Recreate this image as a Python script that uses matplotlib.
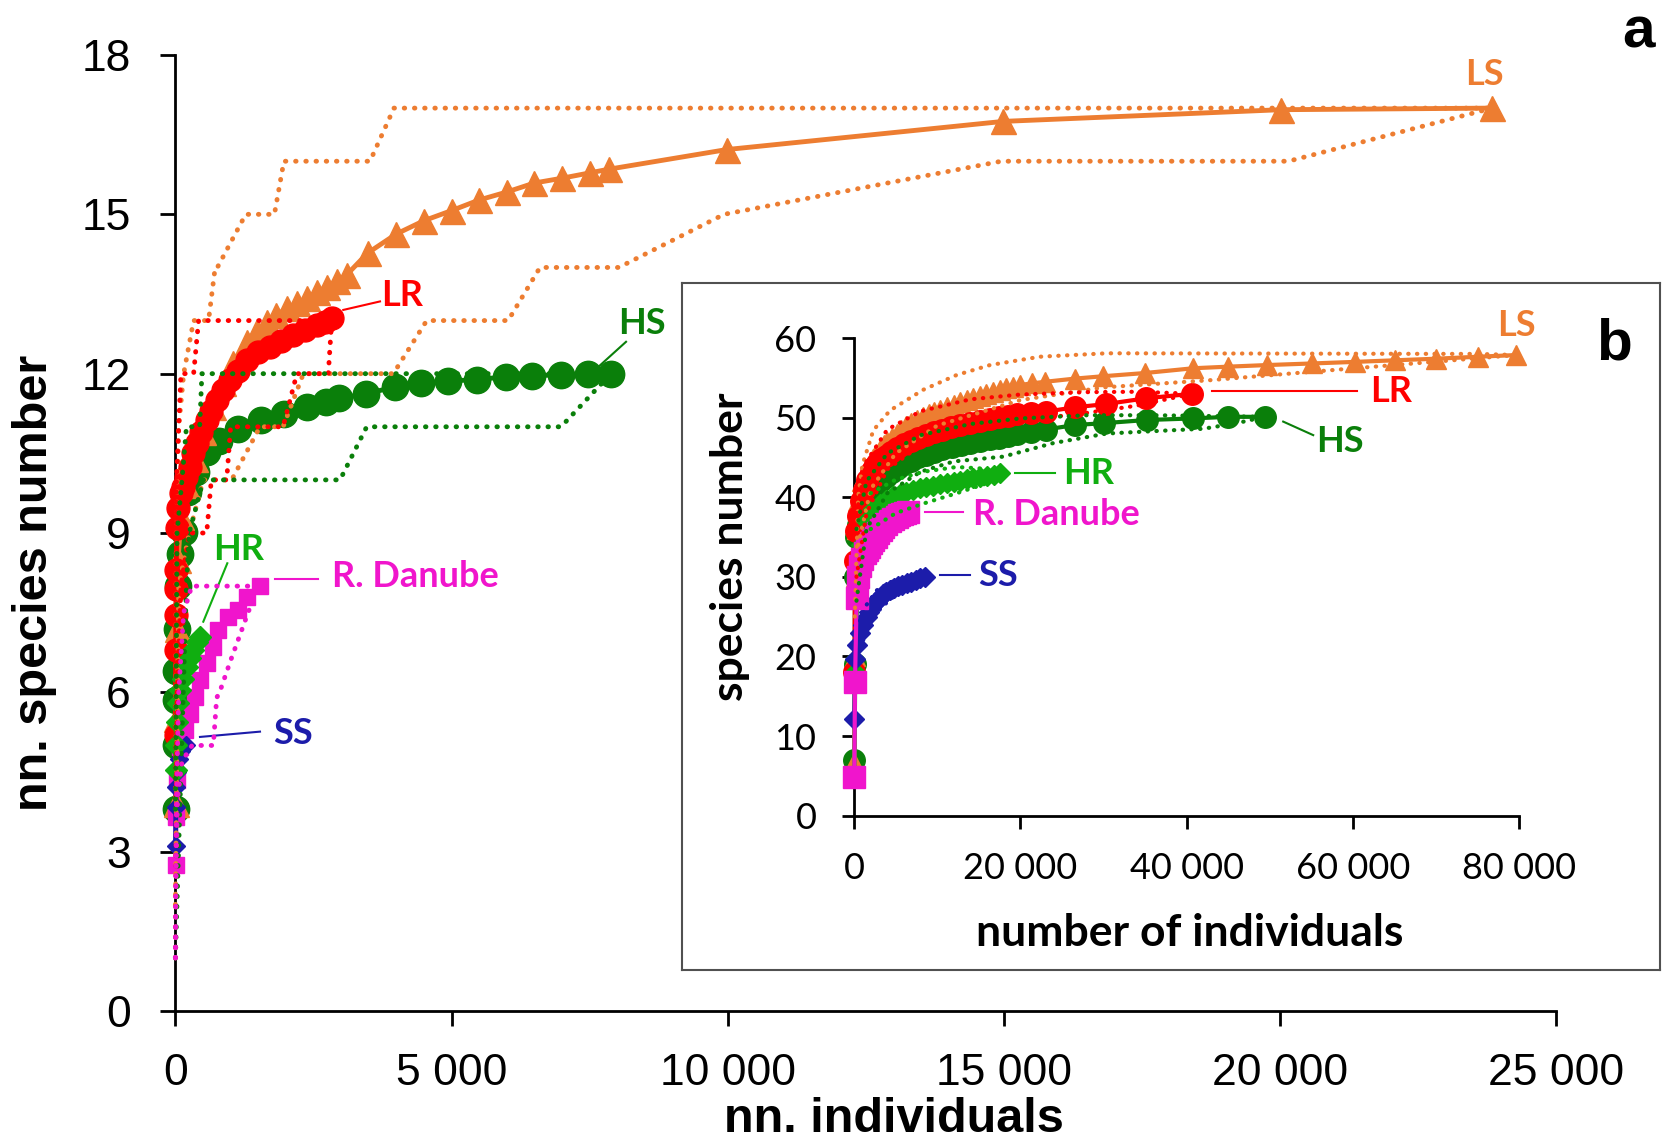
import matplotlib
matplotlib.use("Agg")
import matplotlib.pyplot as plt

# colours
c_ls = '#ED7D31'
c_lr = '#FF0000'
c_hs = '#0A7F0A'
c_hr = '#10AE10'
c_dan = '#F015CC'
c_ss = '#1C1CAA'

# ---------------- panel a (main) ----------------
ls_x = [3, 10, 25, 50, 100, 200, 350, 500, 686, 867, 1049, 1291, 1470, 1653, 1830, 2015, 2200,
        2377, 2560, 2739, 2920, 3101, 3480, 4000, 4500, 5000, 5500, 6000, 6500, 7000, 7500,
        7850, 9987, 14992, 20017, 23845]
ls_y = [3.9, 5.5, 7.2, 8.5, 9.3, 9.9, 10.4, 10.9, 11.38, 11.82, 12.2, 12.6, 12.8, 12.98, 13.1,
        13.23, 13.33, 13.42, 13.53, 13.64, 13.75, 13.86, 14.27, 14.63, 14.88, 15.07, 15.27,
        15.42, 15.59, 15.68, 15.78, 15.85, 16.22, 16.75, 16.97, 17.0]
ls_up_x = [0, 15, 60, 150, 330, 600, 720, 760, 1273, 1793, 1965, 3524, 3958, 23845]
ls_up_y = [4, 9, 11, 12, 13, 13, 14, 14, 15, 15, 16, 16, 17, 17]
ls_lo_x = [0, 60, 250, 505, 1019, 1532, 1950, 2317, 3946, 4551, 6025, 6602, 8029, 9935,
           14957, 20155, 23845]
ls_lo_y = [2, 8, 9, 10, 10, 11, 11, 12, 12, 13, 13, 14, 14, 15, 16, 16, 17]

lr_x = [2, 5, 8, 12, 16, 24, 53, 100, 143, 200, 264, 320, 386, 470, 567, 650, 748, 860, 989,
        1130, 1291, 1500, 1713, 1920, 2135, 2350, 2558, 2700, 2830]
lr_y = [5.2, 6.8, 7.45, 7.95, 8.3, 9.1, 9.47, 9.75, 9.87, 10.05, 10.25, 10.5, 10.69, 10.9,
        11.13, 11.3, 11.5, 11.7, 11.88, 12.05, 12.26, 12.4, 12.51, 12.62, 12.73, 12.83,
        12.92, 12.98, 13.04]
lr_up_x = [0, 20, 60, 100, 330, 420, 2830]
lr_up_y = [4, 10, 11, 12, 12, 13, 13]
lr_lo_x = [0, 30, 100, 250, 567, 650, 929, 1000, 1950, 2200, 2769, 2830]
lr_lo_y = [1, 6, 8, 9, 9, 10, 10, 11, 11, 12, 12, 13]

hs_x = [2, 5, 8, 12, 20, 40, 80, 159, 228, 368, 576, 782, 1130, 1545, 1961, 2377, 2723,
        2966, 3451, 3971, 4456, 4942, 5461, 5981, 6466, 6986, 7471, 7886]
hs_y = [3.8, 5.0, 5.86, 6.41, 7.2, 8.0, 8.6, 9.02, 9.77, 10.15, 10.53, 10.74, 10.95, 11.12,
        11.24, 11.37, 11.47, 11.54, 11.62, 11.75, 11.82, 11.86, 11.89, 11.94, 11.96, 11.98,
        11.99, 12.0]
hs_up_x = [0, 30, 120, 200, 440, 480, 7886]
hs_up_y = [3.8, 9, 10, 11, 11, 12, 12]
hs_lo_x = [0, 200, 250, 505, 2981, 3464, 6983, 7886]
hs_lo_y = [1, 8, 9, 10, 10, 11, 11, 12]

hr_x = [5, 10, 20, 40, 83, 140, 204, 270, 324, 390, 445]
hr_y = [4.54, 5.0, 5.45, 5.8, 6.04, 6.25, 6.48, 6.65, 6.8, 6.95, 7.05]

dan_x = [2, 10, 24, 83, 174, 264, 355, 445, 567, 686, 777, 958, 1140, 1291, 1532]
dan_y = [2.75, 3.66, 4.35, 4.98, 5.29, 5.6, 5.92, 6.23, 6.55, 6.86, 7.17, 7.42, 7.55, 7.8, 8.0]
dan_up_x = [0, 20, 60, 150, 295, 1532]
dan_up_y = [1, 4, 6, 7.5, 8, 8]
dan_lo_x = [2, 10, 40, 120, 300, 686, 748, 800, 1000, 1351, 1532]
dan_lo_y = [1, 2.7, 4, 4.7, 5, 5, 5.9, 6.0, 6.6, 7.6, 8]

ss_x = [3, 8, 15, 30, 60, 110, 200]
ss_y = [3.1, 3.85, 4.22, 4.5, 4.75, 4.9, 5.0]

a_xticks = [0, 5000, 10000, 15000, 20000, 25000]
a_xlabels = ['0', '5 000', '10 000', '15 000', '20 000', '25 000']
a_yticks = [0, 3, 6, 9, 12, 15, 18]

# ---------------- panel b (inset) ----------------
bls_x = [40, 120, 250, 400, 520, 800, 1000, 1250, 1520, 1900, 2300, 2700, 3125, 3550, 4000,
         4550, 5130, 5700, 6300, 6900, 7540, 8250, 9000, 9650, 10340, 11150, 12000, 12750,
         13540, 14300, 15100, 15900, 16740, 17500, 18300, 19100, 19950, 21400, 22960, 26560,
         29970, 34980, 40780, 44990, 49610, 55020, 60220, 65030, 70030, 75040, 79650]
bls_y = [6.6, 20, 30, 36, 39.5, 41.2, 42.0, 42.7, 43.4, 44.1, 44.8, 45.4, 45.9, 46.5, 47.0,
         47.5, 48.0, 48.5, 48.9, 49.3, 49.7, 50.1, 50.4, 50.7, 50.96, 51.3, 51.6, 51.9, 52.2,
         52.45, 52.7, 53.0, 53.25, 53.5, 53.7, 53.9, 54.1, 54.3, 54.5, 54.9, 55.2, 55.6, 56.2,
         56.4, 56.6, 56.8, 57.0, 57.2, 57.4, 57.65, 57.86]
bls_up_x = [100, 500, 1000, 2320, 4330, 8330, 12340, 16350, 22360, 30380, 75000, 79650]
bls_up_y = [25, 40, 44, 48.4, 50.9, 53.5, 55.35, 56.6, 57.65, 58.08, 58.0, 57.86]
bls_lo_x = [500, 2000, 5000, 10000, 20000, 30000, 42790, 57620, 69600, 79650]
bls_lo_y = [34, 41, 45.5, 49.0, 52.2, 53.8, 54.7, 55.98, 57.0, 57.86]

blr_x = [60, 120, 250, 490, 800, 1250, 1600, 2000, 2400, 2800, 3300, 3850, 4500, 5200, 6000,
         6850, 7700, 8600, 9600, 10640, 11700, 12800, 14000, 15150, 16300, 17400, 18500,
         19650, 21300, 23030, 26560, 30280, 35050, 40690]
blr_y = [18, 32, 35.8, 37.6, 39.5, 40.9, 42.2, 43.2, 43.8, 44.3, 44.8, 45.2, 45.7, 46.2,
         46.7, 47.1, 47.5, 47.8, 48.15, 48.5, 48.8, 49.1, 49.35, 49.6, 49.85, 50.05, 50.25,
         50.45, 50.6, 50.74, 51.3, 51.7, 52.42, 53.0]
blr_up_x = [300, 1500, 4000, 8000, 14000, 20000, 28000, 34000, 40690]
blr_up_y = [38, 44.5, 48.5, 50.8, 52.3, 52.9, 53.2, 53.25, 53.0]
blr_lo_x = [300, 1500, 4000, 8000, 14000, 20000, 28000, 34000, 40690]
blr_lo_y = [30, 38, 43.5, 46.5, 48.5, 49.6, 50.6, 51.5, 53.0]

bhs_x = [40, 80, 120, 200, 490, 750, 1000, 1300, 1620, 2100, 2700, 3250, 3850, 4550, 5300,
         6050, 6850, 7750, 8700, 9650, 10640, 11750, 12900, 14000, 15150, 16300, 17400,
         18500, 19650, 21300, 23030, 26560, 30020, 35180, 40780, 44990, 49400]
bhs_y = [7.0, 19, 30, 35, 36.5, 37.2, 37.8, 38.9, 39.8, 40.6, 41.3, 42.0, 42.6, 43.2, 43.7,
         44.2, 44.6, 45.0, 45.3, 45.7, 46.0, 46.3, 46.6, 46.85, 47.1, 47.3, 47.5, 47.7, 47.9,
         48.2, 48.5, 49.07, 49.3, 49.7, 49.9, 50.1, 50.1]
bhs_up_x = [300, 1500, 4000, 8000, 14000, 20000, 28000, 36000, 49400]
bhs_up_y = [36, 42, 45.5, 47.8, 49.2, 49.9, 50.3, 50.3, 50.1]
bhs_lo_x = [300, 1500, 4000, 8000, 12000, 17950, 23960, 30380, 36000, 42000, 46000, 49400]
bhs_lo_y = [27, 36, 40.5, 43.2, 44.5, 45.1, 46.8, 48.0, 48.3, 48.6, 49.3, 50.1]

bhr_x = [40, 150, 400, 800, 1500, 2300, 3125, 3900, 4720, 5500, 6300, 7100, 7930, 8700, 9500,
         10300, 11140, 12000, 12800, 13600, 14350, 15200, 16000, 16800, 17550]
bhr_y = [5, 18, 28, 34, 37, 38.5, 39.2, 39.7, 40.1, 40.35, 40.6, 40.85, 41.1, 41.25, 41.4,
         41.6, 41.75, 41.95, 42.1, 42.25, 42.4, 42.55, 42.7, 42.85, 43.0]
bhr_up_x = [2000, 5000, 8330, 12340, 15500, 17550]
bhr_up_y = [40.5, 42.2, 43.2, 43.8, 43.6, 43.0]
bhr_lo_x = [2000, 5000, 8330, 12340, 15950, 17550]
bhr_lo_y = [36, 38, 39.2, 40.5, 41.75, 43.0]

bdan_x = [40, 120, 320, 520, 720, 1000, 1320, 1550, 1800, 2050, 2320, 2600, 2900, 3200, 3525,
          3900, 4300, 4700, 5130, 5450, 5800, 6150, 6530]
bdan_y = [4.9, 16.8, 27.3, 30.0, 31.3, 32.2, 32.95, 33.4, 33.8, 34.2, 34.6, 35.0, 35.5, 35.9,
          36.3, 36.7, 37.0, 37.3, 37.55, 37.75, 37.9, 38.05, 38.2]

bss_x = [40, 150, 400, 720, 1100, 1520, 1800, 2100, 2400, 2730, 3100, 3500, 3900, 4330, 4800,
         5300, 5800, 6330, 6850, 7400, 7950, 8530]
bss_y = [12.2, 19.7, 21.5, 22.9, 24.0, 25.0, 25.6, 26.1, 26.6, 27.1, 27.4, 27.8, 28.1, 28.35,
         28.6, 28.8, 29.0, 29.2, 29.4, 29.6, 29.8, 30.0]
bss_up_x = [720, 1520, 2730, 4330, 6330, 8530]
bss_up_y = [24.5, 26.5, 28.3, 29.3, 29.9, 30.0]
bss_lo_x = [720, 1520, 2730, 4330, 6330, 8530]
bss_lo_y = [21, 23.2, 25.5, 27.2, 28.5, 30.0]

b_xticks = [0, 20000, 40000, 60000, 80000]
b_xlabels = ['0', '20 000', '40 000', '60 000', '80 000']
b_yticks = [0, 10, 20, 30, 40, 50, 60]

W, H = 1663, 1146
fig = plt.figure(figsize=(W / 100, H / 100), dpi=100)

ax = fig.add_axes([175.4 / W, 1 - 1011 / H, (1556 - 175.4) / W, (1011 - 55) / H])


def curve(a, x, y, col, mk, ms, lw=3.5, z=3):
    a.plot(x, y, color=col, marker=mk, ms=ms, lw=lw, mec=col, clip_on=False, zorder=z)


def ci(a, x, y, col, lw=3.5, z=5):
    a.plot(x, y, color=col, lw=lw, ls=(0, (0.1, 2.0)), dash_capstyle='round',
           clip_on=False, zorder=z)


curve(ax, hs_x, hs_y, c_hs, 'o', 19)
curve(ax, ls_x, ls_y, c_ls, '^', 18)
curve(ax, lr_x, lr_y, c_lr, 'o', 16.5)
curve(ax, dan_x, dan_y, c_dan, 's', 12)
curve(ax, ss_x, ss_y, c_ss, 'D', 9.5)
curve(ax, hr_x, hr_y, c_hr, 'D', 11.5)
ci(ax, ls_up_x, ls_up_y, c_ls)
ci(ax, ls_lo_x, ls_lo_y, c_ls)
ci(ax, lr_up_x, lr_up_y, c_lr)
ci(ax, lr_lo_x, lr_lo_y, c_lr)
ci(ax, hs_up_x, hs_up_y, c_hs)
ci(ax, hs_lo_x, hs_lo_y, c_hs)
ci(ax, dan_up_x, dan_up_y, c_dan)
ci(ax, dan_lo_x, dan_lo_y, c_dan)

ax.set_xlim(0, 25000)
ax.set_ylim(0, 18)
ax.set_xticks(a_xticks)
ax.set_xticklabels(a_xlabels)
ax.set_yticks(a_yticks)
for s in ['top', 'right']:
    ax.spines[s].set_visible(False)
for s in ['left', 'bottom']:
    ax.spines[s].set_linewidth(2)
ax.tick_params(direction='out', length=11, width=2, labelsize=32, pad=21)
ax.tick_params(axis='x', pad=19)
for t in ax.get_xticklabels() + ax.get_yticklabels():
    t.set_family('Liberation Sans')

lab = dict(family='Lato', weight='bold', fontsize=26, va='center')
ax.text(23713, 17.64, 'LS', color=c_ls, ha='center', **lab)
ax.text(4109, 13.48, 'LR', color=c_lr, ha='center', **lab)
ax.plot([3040, 3705], [13.2, 13.36], color=c_lr, lw=1.5)
ax.text(8451, 12.95, 'HS', color=c_hs, ha='center', **lab)
ax.plot([7671, 8160], [12.14, 12.6], color=c_hs, lw=1.5)
ax.text(1152, 8.68, 'HR', color=c_hr, ha='center', **lab)
ax.plot([505, 940], [7.33, 8.43], color=c_hr, lw=1.5)
ax.text(2830, 8.18, 'R. Danube', color=c_dan, ha='left', **lab)
ax.plot([1803, 2588], [8.13, 8.13], color=c_dan, lw=1.5)
ax.text(1767, 5.23, 'SS', color=c_ss, ha='left', **lab)
ax.plot([445, 1532], [5.16, 5.26], color=c_ss, lw=1.5)

fig.text(35 / W, 1 - 583 / H, 'nn. species number', rotation=90, ha='center', va='center',
         family='Liberation Sans', weight='bold', fontsize=35)
fig.text(894 / W, 1 - 1119 / H, 'nn. individuals', ha='center', va='center',
         family='Liberation Sans', weight='bold', fontsize=35)
fig.text(1639 / W, 1 - 32 / H, 'a', ha='center', va='center',
         family='Liberation Sans', weight='bold', fontsize=42)

# frame behind the inset
fr = fig.add_axes([682 / W, 1 - 970 / H, (1660 - 682) / W, (970 - 283) / H])
fr.set_xticks([])
fr.set_yticks([])
for s in fr.spines.values():
    s.set_color('#505050')
    s.set_linewidth(1.5)

bx = fig.add_axes([854 / W, 1 - 815.7 / H, (1519.4 - 854) / W, (815.7 - 338) / H])
bx.patch.set_alpha(0)

curve(bx, bhs_x, bhs_y, c_hs, 'o', 15.5, lw=3)
curve(bx, bls_x, bls_y, c_ls, '^', 15, lw=3)
curve(bx, blr_x, blr_y, c_lr, 'o', 15.5, lw=3)
curve(bx, bhr_x, bhr_y, c_hr, 'D', 10, lw=3)
curve(bx, bss_x, bss_y, c_ss, 'D', 10, lw=3)
curve(bx, bdan_x, bdan_y, c_dan, 's', 16, lw=3)
ci(bx, bls_up_x, bls_up_y, c_ls, lw=3)
ci(bx, bls_lo_x, bls_lo_y, c_ls, lw=3)
ci(bx, blr_up_x, blr_up_y, c_lr, lw=3)
ci(bx, blr_lo_x, blr_lo_y, c_lr, lw=3)
ci(bx, bhs_up_x, bhs_up_y, c_hs, lw=3)
ci(bx, bhs_lo_x, bhs_lo_y, c_hs, lw=3)
ci(bx, bhr_up_x, bhr_up_y, c_hr, lw=3)
ci(bx, bhr_lo_x, bhr_lo_y, c_hr, lw=3)
ci(bx, bss_up_x, bss_up_y, c_ss, lw=3)
ci(bx, bss_lo_x, bss_lo_y, c_ss, lw=3)

bx.set_xlim(0, 80000)
bx.set_ylim(0, 60)
bx.set_xticks(b_xticks)
bx.set_xticklabels(b_xlabels)
bx.set_yticks(b_yticks)
for s in ['top', 'right']:
    bx.spines[s].set_visible(False)
for s in ['left', 'bottom']:
    bx.spines[s].set_linewidth(2)
bx.tick_params(direction='out', length=9, width=2, labelsize=26, pad=18)
bx.tick_params(axis='x', pad=17)
for t in bx.get_xticklabels() + bx.get_yticklabels():
    t.set_family('Lato')

bx.text(79700, 61.6, 'LS', color=c_ls, ha='center', **lab)
bx.text(64550, 53.25, 'LR', color=c_lr, ha='center', **lab)
bx.plot([43000, 60420], [53.4, 53.4], color=c_lr, lw=1.5)
bx.text(58420, 46.97, 'HS', color=c_hs, ha='center', **lab)
bx.plot([51600, 55210], [49.5, 47.8], color=c_hs, lw=1.5)
bx.text(28250, 43.0, 'HR', color=c_hr, ha='center', **lab)
bx.plot([19350, 24160], [43.0, 43.0], color=c_hr, lw=1.5)
bx.text(14340, 37.77, 'R. Danube', color=c_dan, ha='left', **lab)
bx.plot([8530, 13140], [38.2, 38.2], color=c_dan, lw=1.5)
bx.text(14950, 30.2, 'SS', color=c_ss, ha='left', **lab)
bx.plot([10340, 13940], [30.2, 30.2], color=c_ss, lw=1.5)

fig.text(1190 / W, 1 - 933 / H, 'number of individuals', ha='center', va='center',
         family='Lato', weight='bold', fontsize=32)
fig.text(730 / W, 1 - 547 / H, 'species number', rotation=90, ha='center', va='center',
         family='Lato', weight='bold', fontsize=32)
fig.text(1614 / W, 1 - 345 / H, 'b', ha='center', va='center',
         family='Liberation Sans', weight='bold', fontsize=42)

fig.savefig('out.png', dpi=100)
